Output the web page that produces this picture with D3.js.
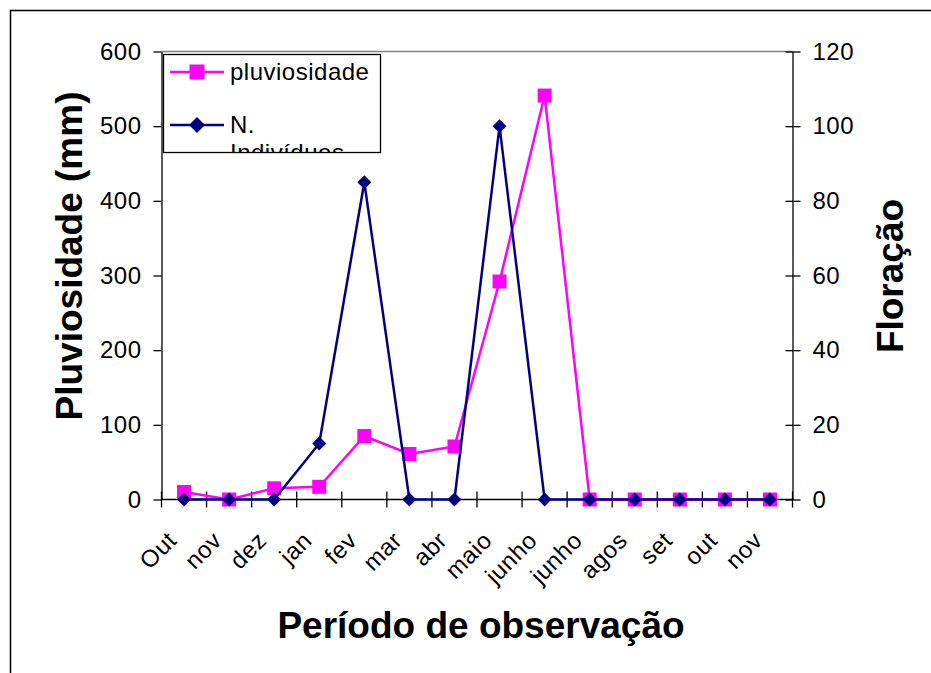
<!DOCTYPE html>
<html>
<head>
<meta charset="utf-8">
<script src="https://cdn.jsdelivr.net/npm/d3@7"></script>
<style>
  body { margin: 0; background: #fff; }
  text { font-family: "Liberation Sans", Arial, sans-serif; }
</style>
</head>
<body>
<div id="chart"></div>
<script>
// categories (month labels, note duplicates)
let months = ["Out", "nov", "dez", "jan", "fev", "mar", "abr", "maio", "junho", "junho", "agos", "set", "out", "nov"]
// pluviosidade (mm), left axis
let pluviosidade = [10, 0, 15, 17, 85, 61, 71, 292, 541, 0, 0, 0, 0, 0]
// N. Indivíduos (floração), right axis
let individuos = [0, 0, 0, 15, 85, 0, 0, 100, 0, 0, 0, 0, 0, 0]
let leftTicks = [0, 100, 200, 300, 400, 500, 600]
let rightTicks = [0, 20, 40, 60, 80, 100, 120]

let W = 931, H = 673
let fs = "24px", ls = "0.5px"
let svg = d3.select("#chart").append("svg")
    .attr("width", W)
    .attr("height", H)

// outer chart frame (right and bottom run off the page)
svg.append("rect")
    .attr("x", 10.5).attr("y", 10.5)
    .attr("width", 940).attr("height", 690)
    .style("fill", "none")
    .style("stroke", "#000")
    .style("stroke-width", 1.5)

let pLeft = 161.5, pRight = 792.5, pTop = 51.5, pBottom = 499.5

let x = d3.scaleBand()
    .domain(d3.range(months.length))
    .range([pLeft, pRight])
    .padding(0)
let yL = d3.scaleLinear().domain([0, 600]).range([pBottom, pTop])
let yR = d3.scaleLinear().domain([0, 120]).range([pBottom, pTop])
let cx = i => x(i) + x.bandwidth() / 2

// plot area top border (grey)
svg.append("line")
    .attr("x1", pLeft).attr("x2", pRight)
    .attr("y1", pTop).attr("y2", pTop)
    .style("stroke", "#808080").style("stroke-width", 1.5)

// left axis
let gL = svg.append("g")
    .attr("transform", "translate(" + pLeft + ",0)")
    .call(d3.axisLeft(yL).tickValues(leftTicks).tickSizeInner(8).tickSizeOuter(0).tickPadding(12))
gL.select(".domain").style("stroke", "#000").style("stroke-width", 1.3)
gL.selectAll(".tick line").style("stroke", "#000").style("stroke-width", 1.3)
gL.selectAll(".tick text")
    .style("font-size", fs).style("letter-spacing", ls)
    .style("font-family", "Liberation Sans, Arial, sans-serif")
    .style("fill", "#000")

// right axis (ticks cross the line)
let gR = svg.append("g")
    .attr("transform", "translate(" + pRight + ",0)")
    .call(d3.axisRight(yR).tickValues(rightTicks).tickSizeInner(8).tickSizeOuter(0).tickPadding(12))
gR.select(".domain").style("stroke", "#000").style("stroke-width", 1.3)
gR.selectAll(".tick line").attr("x1", -7).style("stroke", "#000").style("stroke-width", 1.3)
gR.selectAll(".tick text")
    .style("font-size", fs).style("letter-spacing", ls)
    .style("font-family", "Liberation Sans, Arial, sans-serif")
    .style("fill", "#000")

// bottom axis: line, ticks at category boundaries, rotated labels
svg.append("line")
    .attr("x1", pLeft).attr("x2", pRight)
    .attr("y1", pBottom).attr("y2", pBottom)
    .style("stroke", "#000").style("stroke-width", 1.3)
svg.append("g").selectAll("line")
    .data(d3.range(months.length + 1))
    .enter().append("line")
    .attr("x1", i => pLeft + i * x.step())
    .attr("x2", i => pLeft + i * x.step())
    .attr("y1", pBottom - 8).attr("y2", pBottom + 8)
    .style("stroke", "#000").style("stroke-width", 1.3)
svg.append("g").selectAll("text")
    .data(months)
    .enter().append("text")
    .attr("transform", (d, i) => "translate(" + (cx(i) - 6) + "," + 542 + ") rotate(-45)")
    .attr("text-anchor", "end")
    .style("font-size", fs).style("letter-spacing", ls)
    .text(d => d)

// axis titles
svg.append("text")
    .attr("transform", "translate(82,256) rotate(-90)")
    .attr("text-anchor", "middle")
    .style("font-size", "37px").style("font-weight", "bold")
    .text("Pluviosidade (mm)")
svg.append("text")
    .attr("transform", "translate(903,276) rotate(-90)")
    .attr("text-anchor", "middle")
    .style("font-size", "37px").style("font-weight", "bold")
    .text("Floração")
svg.append("text")
    .attr("x", 481).attr("y", 638)
    .attr("text-anchor", "middle")
    .style("font-size", "37px").style("font-weight", "bold")
    .text("Período de observação")

// series
let pink = "#FF00FF", navy = "#000080"
let lineL = d3.line().x((d, i) => cx(i)).y(d => yL(d))
let lineR = d3.line().x((d, i) => cx(i)).y(d => yR(d))

svg.append("path")
    .datum(pluviosidade)
    .attr("d", lineL)
    .style("fill", "none").style("stroke", pink).style("stroke-width", 2.5)
svg.append("g").selectAll("rect")
    .data(pluviosidade)
    .enter().append("rect")
    .attr("x", (d, i) => cx(i) - 7)
    .attr("y", d => yL(d) - 7)
    .attr("width", 14).attr("height", 14)
    .style("fill", pink)

svg.append("path")
    .datum(individuos)
    .attr("d", lineR)
    .style("fill", "none").style("stroke", navy).style("stroke-width", 2.5)
let diamond = "M0,-7L7,0L0,7L-7,0Z"
svg.append("g").selectAll("path")
    .data(individuos)
    .enter().append("path")
    .attr("transform", (d, i) => "translate(" + cx(i) + "," + yR(d) + ")")
    .attr("d", diamond)
    .style("fill", navy)

// legend (second entry wraps and is clipped by the box)
let lx = 163.5, ly = 54.5, lw = 217, lh = 98
svg.append("clipPath").attr("id", "legclip")
    .append("rect").attr("x", lx).attr("y", ly).attr("width", lw).attr("height", lh)
let leg = svg.append("g")
leg.append("rect")
    .attr("x", lx).attr("y", ly).attr("width", lw).attr("height", lh)
    .style("fill", "#fff")
let legItems = leg.append("g").attr("clip-path", "url(#legclip)")

legItems.append("line")
    .attr("x1", 170).attr("x2", 224).attr("y1", 72).attr("y2", 72)
    .style("stroke", pink).style("stroke-width", 2.5)
legItems.append("rect")
    .attr("x", 189.5).attr("y", 64.5).attr("width", 15).attr("height", 15)
    .style("fill", pink)
legItems.append("text")
    .attr("x", 230).attr("y", 80)
    .style("font-size", fs).style("letter-spacing", ls)
    .text("pluviosidade")

legItems.append("line")
    .attr("x1", 170).attr("x2", 224).attr("y1", 125).attr("y2", 125)
    .style("stroke", navy).style("stroke-width", 2.5)
legItems.append("path")
    .attr("transform", "translate(197,125)")
    .attr("d", "M0,-8L8,0L0,8L-8,0Z")
    .style("fill", navy)
legItems.append("text")
    .attr("x", 230).attr("y", 133)
    .style("font-size", fs).style("letter-spacing", ls)
    .text("N.")
legItems.append("text")
    .attr("x", 230).attr("y", 161)
    .style("font-size", fs).style("letter-spacing", ls)
    .text("Indivíduos")

leg.append("rect")
    .attr("x", lx).attr("y", ly).attr("width", lw).attr("height", lh)
    .style("fill", "none").style("stroke", "#000").style("stroke-width", 1.3)
</script>
</body>
</html>
